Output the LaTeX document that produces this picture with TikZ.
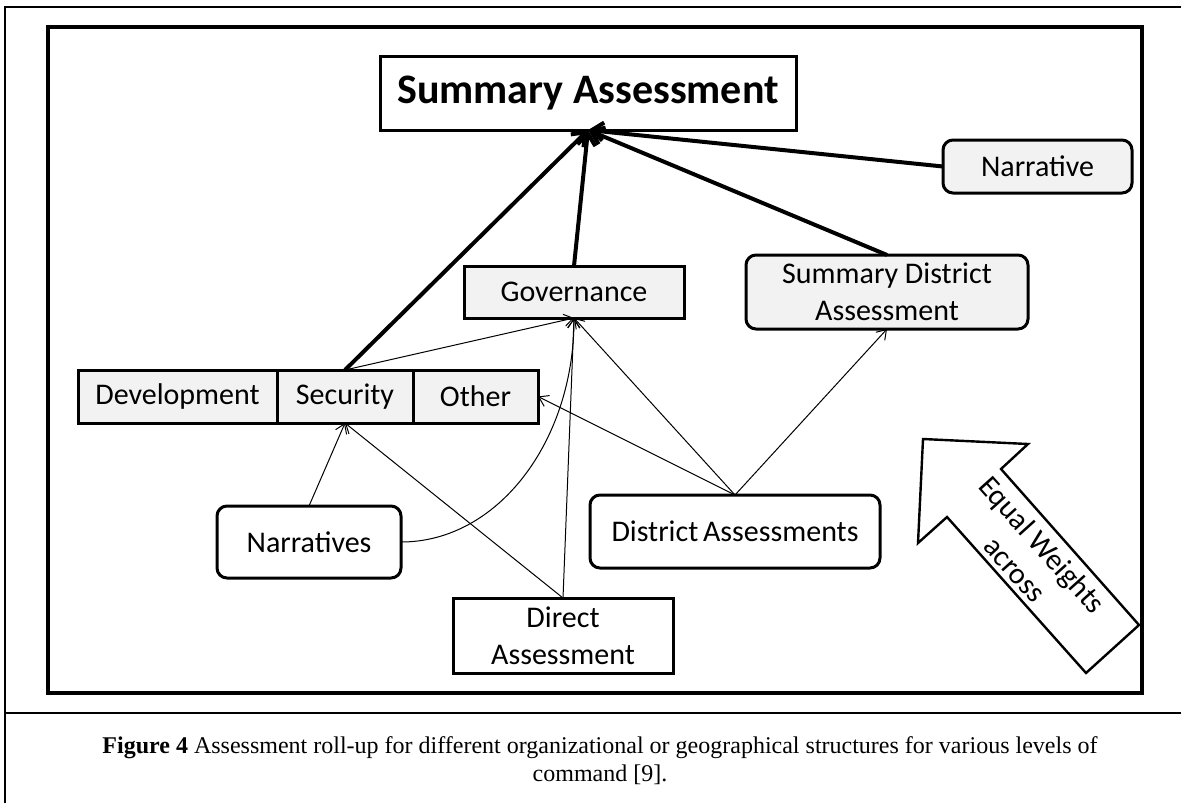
\documentclass[tikz,border=0pt]{standalone}
\usepackage{fontspec}
\setmainfont{Carlito}
\newfontfamily\captionfont{Liberation Serif}
\usetikzlibrary{positioning, calc, arrows.meta}
\definecolor{boxgrey}{HTML}{F2F2F2}

\tikzstyle{plainbox} = [rectangle, draw=black, line width=1.5pt, fill=white, inner sep=0pt, outer sep=0pt, align=center, font=\fontsize{15}{18.5}\selectfont]
\tikzstyle{greybox} = [plainbox, fill=boxgrey]
\tikzstyle{roundbox} = [plainbox, rounded corners=5pt]
\tikzstyle{greyround} = [roundbox, fill=boxgrey]
\tikzstyle{rollup} = [line width=2pt, -{Straight Barb[length=6pt,width=9pt]}]
\tikzstyle{feed} = [line width=0.5pt, -{Straight Barb[length=4.5pt,width=6pt]}]

\begin{document}
\begin{tikzpicture}[x=0.5pt, y=-0.5pt]
\useasboundingbox (0,0) rectangle (1181,803);

% page frame, caption rule and figure frame
\draw [line width=1pt] (5,803) -- (5,7) -- (1181,7);
\draw [line width=1pt] (5,713) -- (1181,713);
\draw [line width=2.25pt] (48,27) rectangle (1142,693);

% equal weights block arrow
\draw [line width=1.2pt, fill=white] (923,439) -- (1028,444) -- (1001,469) -- (1139,625) -- (1086,673) -- (947,517) -- (918,543) -- cycle;
\node (weights) [rotate=-48, align=center, font=\fontsize{15}{18.5}\selectfont] at (1029,557) {Equal Weights\\across};

\node (title) [plainbox, font=\fontsize{21}{25}\selectfont\bfseries, minimum width=208pt, minimum height=37pt] at (588,93) {Summary Assessment};
\node (narrative) [greyround, minimum width=94.5pt, minimum height=26.5pt] at (1037.5,166.5) {Narrative};
\node (sda) [greyround, minimum width=141pt, minimum height=37pt] at (887,292) {Summary District\\Assessment};
\node (gov) [greybox, minimum width=110pt, minimum height=26pt] at (574,292) {Governance};

\node (dev) [greybox, minimum width=99.5pt, minimum height=26.5pt] at (177.5,396.5) {Development};
\node (sec) [greybox, minimum width=68pt, minimum height=26.5pt, right=0pt of dev] {Security};
\node (oth) [greybox, minimum width=62.5pt, minimum height=26.5pt, right=0pt of sec] {Other};

\node (narratives) [roundbox, minimum width=92pt, minimum height=36pt] at (309,542) {Narratives};
\node (district) [roundbox, minimum width=145pt, minimum height=36.5pt] at (735,531.5) {District\hspace{-1pt} Assessments};
\node (direct) [plainbox, minimum width=110pt, minimum height=37.5pt] at (563,635.5) {Direct\\Assessment};

\node (caption) [font=\captionfont\fontsize{12}{14}\selectfont, align=center] at (600,761) {\textbf{Figure 4} Assessment roll-up for different organizational or geographical structures for various levels of\\command [9].};

\draw [rollup] (sec.north) -- (title.south);
\draw [rollup] (gov.north) -- (title.south);
\draw [rollup] (sda.north) -- (title.south);
\draw [rollup] (narrative.west) -- (title.south);

\draw [feed] (sec.north) -- (gov.south);
\draw [feed] (narratives.north) -- (sec.south);
\draw [feed] (narratives.east) .. controls ($(narratives.east)+(97,0)$) and ($(gov.south)+(0,123)$) .. (gov.south);
\draw [feed] (direct.north) -- (sec.south);
\draw [feed] (direct.north) -- (gov.south);
\draw [feed] (district.north) -- (oth.east);
\draw [feed] (district.north) -- (gov.south);
\draw [feed] (district.north) -- (sda.south);

\end{tikzpicture}
\end{document}
